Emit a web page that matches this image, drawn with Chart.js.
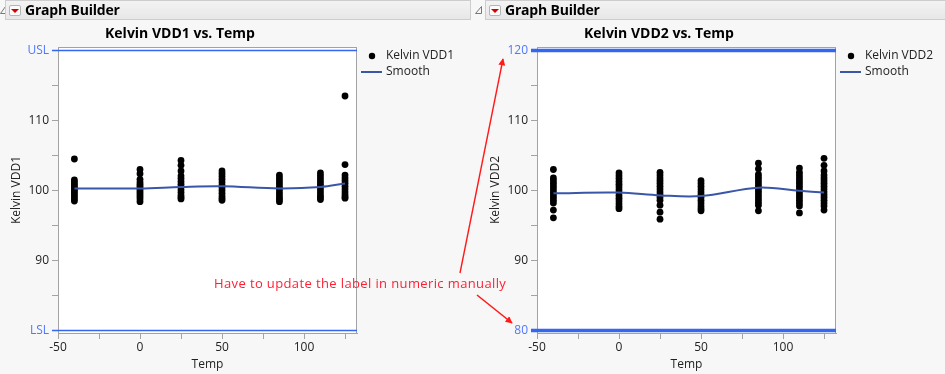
<!DOCTYPE html>
<html><head><meta charset="utf-8">
<script src="https://cdn.jsdelivr.net/npm/chart.js@4/dist/chart.umd.min.js"></script>
<style>
html,body{margin:0;padding:0;background:#f7f7f7;width:945px;height:374px;overflow:hidden;font-family:"Open Sans",sans-serif;}
.hdr{position:absolute;top:0px;height:20px;border:1px solid #cdcdcd;background:linear-gradient(#f3f3f3,#e7e7e7);font-weight:bold;font-size:14px;line-height:20px;color:#000;box-sizing:border-box;z-index:2}
.btn{position:absolute;left:3px;top:4px;width:12px;height:11px;border:1px solid #b5b5b5;border-radius:2px;background:#fbfbfb;box-sizing:border-box}
.btn:after{content:"";position:absolute;left:1px;top:3px;border-left:4px solid transparent;border-right:4px solid transparent;border-top:4px solid #d40000;}
.hdr .t{position:absolute;left:19px;top:-1px;letter-spacing:-0.2px}
.dis{position:absolute;top:5px;z-index:2}
canvas{position:absolute;top:0}
#note{position:absolute;left:214px;top:274px;font-size:13px;color:#ff1e32;white-space:nowrap;z-index:3;letter-spacing:0.38px}
#arrows{position:absolute;left:0;top:0;z-index:3}
</style></head>
<body>
<svg class="dis" style="left:0" width="6" height="10"><path d="M5.5,1.5 L5.5,8.5 L0.5,8.5 Z" fill="none" stroke="#777" stroke-width="1"/></svg>
<div class="hdr" style="left:5px;width:466px"><span class="btn"></span><span class="t">Graph Builder</span></div>
<svg class="dis" style="left:475px" width="7" height="10"><path d="M6.5,1.5 L6.5,8.5 L0.5,8.5 Z" fill="none" stroke="#777" stroke-width="1"/></svg>
<div class="hdr" style="left:485px;width:462px"><span class="btn"></span><span class="t">Graph Builder</span></div>
<canvas id="c1" width="470" height="374" style="left:0"></canvas>
<canvas id="c2" width="466" height="374" style="left:479px"></canvas>
<div id="note">Have to update the label in numeric manually</div>
<svg id="arrows" width="945" height="374">
  <defs><marker id="ah" viewBox="0 0 10 10" refX="9" refY="5" markerWidth="9" markerHeight="7" orient="auto-start-reverse" markerUnits="userSpaceOnUse"><path d="M0,0 L10,5 L0,10 Z" fill="#ff1a1a"/></marker></defs>
  <line x1="460" y1="273" x2="503" y2="59" stroke="#ff1a1a" stroke-width="1.4" marker-end="url(#ah)"/>
  <line x1="477" y1="295" x2="512" y2="323" stroke="#ff1a1a" stroke-width="1.6" marker-end="url(#ah)"/>
</svg>
<script>
// ---- data ----
const temps = [-40, 0, 25, 50, 85, 110, 125];
const vdd1 = [
  [104.5, 101.5, 101.2, 100.9, 100.6, 100.3, 100.0, 99.7, 99.4, 99.1, 98.8, 98.5],
  [103.0, 102.4, 101.6, 101.2, 100.9, 100.6, 100.3, 100.0, 99.7, 99.4, 99.1, 98.8, 98.4],
  [104.3, 103.6, 102.8, 102.1, 101.7, 101.3, 100.9, 100.5, 100.1, 99.7, 99.3, 99.0, 98.8],
  [102.8, 102.4, 102.0, 101.6, 101.2, 100.8, 100.4, 100.0, 99.6, 99.2, 98.9, 98.6],
  [102.2, 101.8, 101.4, 101.0, 100.6, 100.2, 99.8, 99.4, 99.0, 98.7, 98.4],
  [102.5, 102.1, 101.7, 101.3, 100.9, 100.5, 100.1, 99.7, 99.3, 99.0, 98.7],
  [113.5, 103.7, 102.2, 101.8, 101.4, 101.0, 100.6, 100.2, 99.8, 99.4, 99.1, 98.9]
];
const vdd2 = [
  [103.0, 101.8, 101.4, 101.0, 100.6, 100.2, 99.8, 99.4, 99.0, 98.6, 98.2, 97.2, 96.1],
  [102.5, 102.1, 101.7, 101.3, 100.9, 100.5, 100.1, 99.7, 99.3, 98.9, 98.5, 98.1, 97.7, 97.4],
  [102.6, 102.2, 101.8, 101.4, 101.0, 100.6, 100.2, 99.8, 99.4, 99.0, 98.6, 97.9, 96.9, 95.9],
  [101.4, 101.0, 100.6, 100.2, 99.8, 99.4, 99.0, 98.6, 98.2, 97.8, 97.4, 97.1],
  [103.9, 103.1, 102.3, 101.9, 101.5, 101.1, 100.7, 100.3, 99.9, 99.5, 99.1, 98.7, 98.3, 97.9, 97.1],
  [103.2, 102.6, 102.2, 101.8, 101.4, 101.0, 100.6, 100.2, 99.8, 99.4, 99.0, 98.6, 98.2, 97.8, 96.8],
  [104.6, 103.6, 102.8, 102.2, 101.8, 101.4, 101.0, 100.6, 100.2, 99.8, 99.4, 99.0, 98.6, 98.2, 97.8, 97.2]
];
const smooth1 = [100.3, 100.3, 100.5, 100.6, 100.3, 100.5, 101.0];
const smooth2 = [99.6, 99.7, 99.3, 99.2, 100.4, 99.95, 99.7];
const xTicks = [-50, -25, 0, 25, 50, 75, 100, 125];
const xTickLabels = ['-50', '', '0', '', '50', '', '100', ''];
const yTicks = [80, 85, 90, 95, 100, 105, 110, 115, 120];
const yTickLabels1 = ['LSL', '', '90', '', '100', '', '110', '', 'USL'];
const yTickLabels2 = ['80', '', '90', '', '100', '', '110', '', '120'];
const specLimits = [80, 120];

// ---- styling ----
const FONT = '"Open Sans", sans-serif';
const REF_COLOR = '#3566f0';
const REF_LABEL = '#4d78ff';
const AXIS_GRAY = '#a3a3a3';
const SMOOTH_COLOR = '#3a56a8';

function pts(groups) {
  const out = [];
  groups.forEach((g, i) => g.forEach(v => out.push({x: temps[i], y: v})));
  return out;
}

function makeChart(id, title, yName, groups, smooth, yLabels, refWidth) {
  const decor = {
    id: 'decor',
    beforeDatasetsDraw(chart) {
      const {ctx, chartArea: a} = chart;
      ctx.save();
      ctx.fillStyle = '#ffffff';
      ctx.fillRect(a.left, a.top, a.right - a.left, a.bottom - a.top);
      ctx.restore();
    },
    afterDatasetsDraw(chart) {
      const {ctx, chartArea: a, scales} = chart;
      ctx.save();
      ctx.strokeStyle = AXIS_GRAY;
      ctx.lineWidth = 1;
      ctx.strokeRect(a.left + 0.5, a.top + 0.5, a.right - a.left - 1, a.bottom - a.top);
      // reference lines
      ctx.strokeStyle = REF_COLOR;
      ctx.lineWidth = refWidth;
      specLimits.forEach(v => {
        const y = Math.round(scales.y.getPixelForValue(v)) + (refWidth % 2 ? 0.5 : 0);
        ctx.beginPath();
        ctx.moveTo(a.left - 6, y);
        ctx.lineTo(a.right, y);
        ctx.stroke();
      });
      // title
      ctx.fillStyle = '#000';
      ctx.font = 'bold 14px ' + FONT;
      ctx.textAlign = 'center';
      ctx.textBaseline = 'middle';
      ctx.fillText(title, 180, 34);
      // legend
      const lx = a.right + 15;
      ctx.beginPath();
      ctx.arc(lx, 56, 3.2, 0, Math.PI * 2);
      ctx.fillStyle = '#000';
      ctx.fill();
      ctx.strokeStyle = SMOOTH_COLOR;
      ctx.lineWidth = 2;
      ctx.beginPath();
      ctx.moveTo(a.right + 4, 72);
      ctx.lineTo(a.right + 25, 72);
      ctx.stroke();
      ctx.font = '12px ' + FONT;
      ctx.textAlign = 'left';
      ctx.fillStyle = '#222';
      ctx.fillText(yName, a.right + 29, 56);
      ctx.fillText('Smooth', a.right + 29, 72);
      ctx.restore();
    }
  };
  return new Chart(document.getElementById(id), {
    type: 'scatter',
    data: {
      datasets: [
        {label: yName, data: pts(groups), backgroundColor: '#000', borderWidth: 0, pointRadius: 3.4, pointHoverRadius: 3.4, order: 1},
        {type: 'line', label: 'Smooth', data: temps.map((t, i) => ({x: t, y: smooth[i]})),
         borderColor: SMOOTH_COLOR, borderWidth: 2, pointRadius: 0, tension: 0.35, fill: false, order: 0}
      ]
    },
    options: {
      responsive: false,
      animation: false,
      devicePixelRatio: 1,
      layout: {padding: {top: 47, left: 0, bottom: 0, right: document.getElementById(id).width - 357}},
      plugins: {legend: {display: false}, tooltip: {enabled: false}, title: {display: false}},
      scales: {
        x: {
          type: 'linear', min: -50, max: 132.3,
          afterFit: s => { s.height = 41; },
          afterBuildTicks: s => { s.ticks = xTicks.map(v => ({value: v})); },
          ticks: {autoSkip: false, maxRotation: 0, padding: 1, color: '#222', font: {family: FONT, size: 12},
                  callback: (v, i) => xTickLabels[i]},
          grid: {drawOnChartArea: false, drawTicks: true, tickLength: 6, color: AXIS_GRAY},
          border: {display: true, color: AXIS_GRAY},
          title: {display: true, text: 'Temp', color: '#222', font: {family: FONT, size: 12}, padding: {top: 0, bottom: 2}}
        },
        y: {
          type: 'linear', min: 79.64, max: 120.5,
          afterFit: s => { s.width = 58; },
          afterBuildTicks: s => { s.ticks = yTicks.map(v => ({value: v})); },
          ticks: {autoSkip: false, padding: 3, font: {family: FONT, size: 12},
                  color: c => (c.tick && specLimits.includes(c.tick.value)) ? REF_LABEL : '#222',
                  callback: (v, i) => yLabels[i]},
          grid: {drawOnChartArea: false, drawTicks: true, tickLength: 6,
                 color: c => (c.tick && specLimits.includes(c.tick.value)) ? REF_COLOR : AXIS_GRAY},
          border: {display: true, color: AXIS_GRAY},
          title: {display: true, text: yName, color: '#222', font: {family: FONT, size: 12}, padding: {top: 9, bottom: 0}}
        }
      }
    },
    plugins: [decor]
  });
}

makeChart('c1', 'Kelvin VDD1 vs. Temp', 'Kelvin VDD1', vdd1, smooth1, yTickLabels1, 1.5);
makeChart('c2', 'Kelvin VDD2 vs. Temp', 'Kelvin VDD2', vdd2, smooth2, yTickLabels2, 3.5);
</script>
</body></html>
